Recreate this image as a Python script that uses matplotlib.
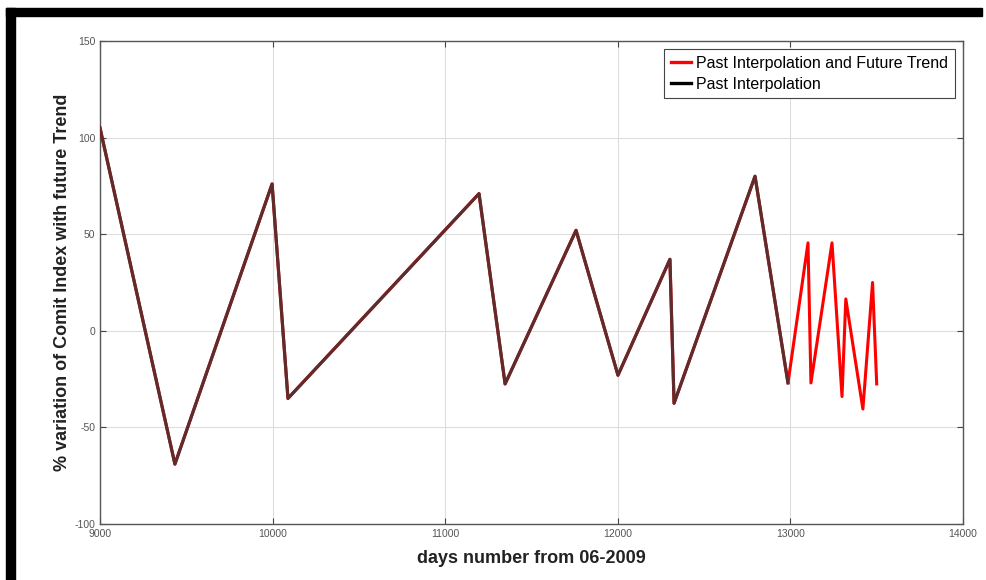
import matplotlib
matplotlib.use('Agg')
import matplotlib.pyplot as plt
from matplotlib.lines import Line2D
from matplotlib.patches import Rectangle

# Turning points of the index (days from 06-2009, % variation)
past_days = [9000, 9434, 9997, 10089, 11196, 11347, 11758, 12001, 12302, 12326, 12795, 12986]
past_pct = [105, -69, 76, -35, 71, -27.5, 52, -23, 37, -37.5, 80, -27]

future_days = [13102, 13119, 13241, 13299, 13321, 13420, 13476, 13500]
future_pct = [45.5, -27, 45.5, -34, 16.5, -40.5, 25, -27.5]

xticks = [9000, 10000, 11000, 12000, 13000, 14000]
yticks = [-100, -50, 0, 50, 100, 150]

plt.rcParams['font.family'] = ['Liberation Sans', 'DejaVu Sans']
plt.rcParams['axes.unicode_minus'] = False

fig = plt.figure(figsize=(9.87, 5.8), dpi=100)
W, H = 987, 580
ax = fig.add_axes([100 / W, 1 - 524 / H, (963 - 100) / W, (524 - 41) / H])

# black frame strips along the top and left edge
fig.patches.append(Rectangle((6 / W, 1 - 16 / H), (982 - 6) / W, 8 / H,
                             transform=fig.transFigure, color='black', zorder=0))
fig.patches.append(Rectangle((6 / W, 0), 9 / W, 1 - 8 / H,
                             transform=fig.transFigure, color='black', zorder=0))

all_days = past_days + future_days
all_pct = past_pct + future_pct
ax.plot(all_days, all_pct, color='#ff0000', lw=2.2, zorder=3)
# past segment sits on top of the red trend line
ax.plot(past_days, past_pct, color='#5e2c2c', lw=2.3, zorder=4)

ax.set_xlim(9000, 14000)
ax.set_ylim(-100, 150)
ax.set_xticks(xticks)
ax.set_yticks(yticks)
ax.grid(True, color='#dddddd', lw=0.8)
ax.set_axisbelow(True)
ax.tick_params(direction='in', length=4, top=True, right=True, colors='#444444',
               labelsize=7.5, labelcolor='#555555', width=0.8)
for s in ax.spines.values():
    s.set_color('#555555')
    s.set_linewidth(1.0)

ax.set_xlabel('days number from 06-2009', fontsize=13, fontweight='bold', color='#222222', labelpad=8)
ax.set_ylabel('% variation of Comit Index with future Trend', fontsize=13, fontweight='bold',
              color='#222222', labelpad=2)

handles = [Line2D([], [], color='#ff0000', lw=2.4),
           Line2D([], [], color='black', lw=2.4)]
leg = ax.legend(handles, ['Past Interpolation and Future Trend', 'Past Interpolation'],
                loc='upper right', handlelength=1.3, handletextpad=0.3,
                fancybox=False, framealpha=1, borderpad=0.4, labelspacing=0.4,
                bbox_to_anchor=(0.9995, 0.9995),
                prop={'family': ['Liberation Sans', 'DejaVu Sans'], 'size': 11.5})
leg.get_frame().set_edgecolor('#444444')
leg.get_frame().set_linewidth(0.8)

fig.savefig('out.png', dpi=100)
